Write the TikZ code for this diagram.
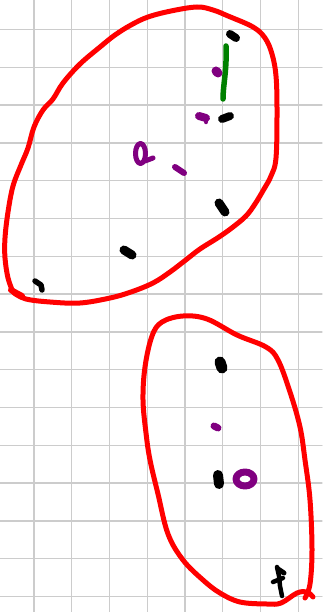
\documentclass[tikz,border=0pt]{standalone}

\definecolor{inkpurple}{RGB}{128,0,128}
\definecolor{inkgreen}{RGB}{0,128,0}

\begin{document}
\begin{tikzpicture}[
  x=1pt, y=-1pt, line cap=round, line join=round,
  gridline/.style={draw=black!20, line width=1.3},
  loopline/.style={draw=red, line width=5},
  ink/.style={line width=8},
  blot/.style={ink, black},
  dab/.style={ink, draw=inkpurple}
]

  \useasboundingbox (0,0) rectangle (322,612);
  \fill[white] (0,0) rectangle (322,612);

  % ── Paper grid ────────────────────────────────────────────────────────────

  \foreach \gx in {0,...,7}
    \draw[gridline] (34+37.75*\gx, 0) -- (34+37.75*\gx, 612);
  \foreach \gy in {0,...,15}
    \draw[gridline] (0, 29.5+37.8*\gy) -- (322, 29.5+37.8*\gy);

  % ── Upper loop ────────────────────────────────────────────────────────────

  \draw[loopline] plot[smooth, tension=0.6] coordinates {
    (13,292) (8,278) (5,258) (5,238) (8,212) (13,186) (21,165) (28,148)
    (34,127) (43,110) (53,99) (63,83) (80,64) (100,47) (115,35) (131,25)
    (148,17) (171,11) (197,7) (213,10) (228,16) (253,27) (265,38) (272,54)
    (276,76) (277,110) (276,158) (271,176) (264,189) (255,204) (246,216)
    (233,227) (219,237) (200,249) (187,259) (170,272) (153,283) (131,292)
    (110,298) (80,303) (50,302) (26,299) (14,293)};
  \draw[loopline, line width=6] (11,290) -- (22,296);

  % green stroke
  \draw[inkgreen, line width=5.5] (226,46) .. controls (227,70) and (223,85) .. (223,99);

  % black marks
  \draw[blot] (230,34) -- (236,38);
  \draw[blot] (222,119) -- (230,116);
  \draw[blot, line width=9] (219,203) -- (225,212);
  \draw[blot, line width=9] (124,250) -- (132,255);
  \draw[blot, line width=5.5] (35,281) -- (41,285) -- (42,290);

  % purple marks
  \draw[dab, line width=9] (216,71) -- (218,73);
  \draw[dab] (199,116) -- (206,118);
  \draw[dab, line width=4.5] (206,117) -- (206,122);
  \draw[dab, line width=6] (175,167) -- (184,173);
  \draw[dab, line width=5] (140.5,153.5) ellipse (5 and 10);
  \draw[dab, line width=5] (145,161) -- (153,158);

  % ── Lower loop ────────────────────────────────────────────────────────────

  \draw[loopline] plot[smooth, tension=0.6] coordinates {
    (313,597) (307,592) (297,593) (281,603) (267,604) (240,602) (220,593)
    (203,580) (183,560) (168,534) (158,494) (150,460) (146,433) (143,400)
    (145,367) (152,336) (162,322) (183,316) (207,319) (237,335) (266,347)
    (278,360) (290,392) (300,427) (305,460) (310,500) (312,550) (310,584)
    (305,598)};

  % black marks
  \draw[blot, line width=11] (220,362) -- (222,368);
  \draw[blot, line width=10] (218,475) -- (219,484);
  \draw[blot, line width=4.5] (277,567) -- (279,576) -- (280,586) -- (282,596);
  \draw[blot, line width=4.5] (273,582) -- (283,578);
  \draw[blot, line width=5] (278,569) -- (284,573);

  % purple marks
  \draw[dab, line width=7] (214,426) -- (218,428);
  \draw[dab, line width=7] (245,479) ellipse (9 and 7);

\end{tikzpicture}
\end{document}
